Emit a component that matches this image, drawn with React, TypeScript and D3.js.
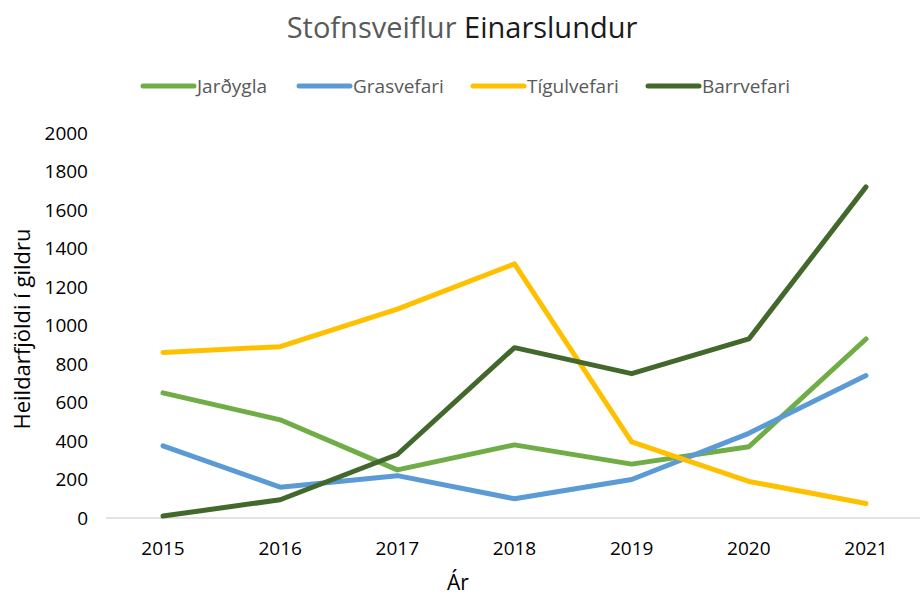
import React, { useEffect, useRef } from 'react';
import * as d3 from 'd3';

// data
const years = ['2015', '2016', '2017', '2018', '2019', '2020', '2021'];
const jardygla = [650, 510, 250, 380, 280, 370, 930];
const grasvefari = [375, 160, 220, 100, 200, 440, 740];
const tigulvefari = [860, 890, 1085, 1320, 395, 190, 75];
const barrvefari = [10, 95, 330, 885, 750, 930, 1720];
const yTicks = [0, 200, 400, 600, 800, 1000, 1200, 1400, 1600, 1800, 2000];

const seriesNames = ['Jarðygla', 'Grasvefari', 'Tígulvefari', 'Barrvefari'];
const seriesColors = ['#70AD47', '#5B9BD5', '#FFC000', '#43682B'];

const W = 924;
const H = 595;
const font = "'Open Sans', sans-serif";

const App = () => {
    const svgRef = useRef<SVGSVGElement>(null);

    useEffect(() => {
        const svg = d3.select(svgRef.current);
        svg.selectAll('*').remove();

        const x = d3.scalePoint().domain(years).range([163, 866]);
        const y = d3.scaleLinear().domain([0, 2000]).range([518, 133]);

        // title
        const title = svg.append('text')
            .attr('x', 462).attr('y', 38)
            .attr('text-anchor', 'middle')
            .style('font-family', font)
            .style('font-size', '29px');
        title.append('tspan').attr('fill', '#595959').text('Stofnsveiflur ');
        title.append('tspan').attr('fill', '#1a1a1a').text('Einarslundur');

        // y tick labels
        svg.append('g')
            .selectAll('text')
            .data(yTicks)
            .join('text')
            .attr('x', 88)
            .attr('y', d => y(d))
            .attr('dy', '0.35em')
            .attr('text-anchor', 'end')
            .attr('fill', '#000')
            .style('font-family', font)
            .style('font-size', '19px')
            .text(d => d);

        // x axis line
        svg.append('line')
            .attr('x1', 106).attr('x2', 920)
            .attr('y1', y(0)).attr('y2', y(0))
            .attr('stroke', '#d9d9d9')
            .attr('stroke-width', 1.5);

        // x tick labels
        svg.append('g')
            .selectAll('text')
            .data(years)
            .join('text')
            .attr('x', d => x(d)!)
            .attr('y', 555)
            .attr('text-anchor', 'middle')
            .attr('fill', '#000')
            .style('font-family', font)
            .style('font-size', '19px')
            .text(d => d);

        // axis titles
        svg.append('text')
            .attr('x', 458).attr('y', 590)
            .attr('text-anchor', 'middle')
            .attr('fill', '#000')
            .style('font-family', font)
            .style('font-size', '21px')
            .text('Ár');

        svg.append('text')
            .attr('transform', 'translate(30,329) rotate(-90)')
            .attr('text-anchor', 'middle')
            .attr('fill', '#000')
            .style('font-family', font)
            .style('font-size', '22px')
            .text('Heildarfjöldi í gildru');

        // lines
        const allSeries = [jardygla, grasvefari, tigulvefari, barrvefari];
        const line = d3.line<number>()
            .x((d, i) => x(years[i])!)
            .y(d => y(d));

        svg.append('g')
            .selectAll('path')
            .data(allSeries)
            .join('path')
            .attr('d', d => line(d))
            .attr('fill', 'none')
            .attr('stroke', (d, i) => seriesColors[i])
            .attr('stroke-width', 5)
            .attr('stroke-linejoin', 'round')
            .attr('stroke-linecap', 'round');

        // legend
        const legendX = [143, 299, 473, 648];
        const lg = svg.append('g')
            .selectAll('g')
            .data(seriesNames)
            .join('g')
            .attr('transform', (d, i) => `translate(${legendX[i]},86)`);
        lg.append('line')
            .attr('x1', 0).attr('x2', 51)
            .attr('stroke', (d, i) => seriesColors[i])
            .attr('stroke-width', 5)
            .attr('stroke-linecap', 'round');
        lg.append('text')
            .attr('x', 54)
            .attr('dy', '0.35em')
            .attr('fill', '#595959')
            .style('font-family', font)
            .style('font-size', '19px')
            .text(d => d);
    }, []);

    return <svg ref={svgRef} width={W} height={H} style={{ display: 'block', position: 'absolute', left: 0, top: 0, background: '#fff' }} />;
};

export default App;
